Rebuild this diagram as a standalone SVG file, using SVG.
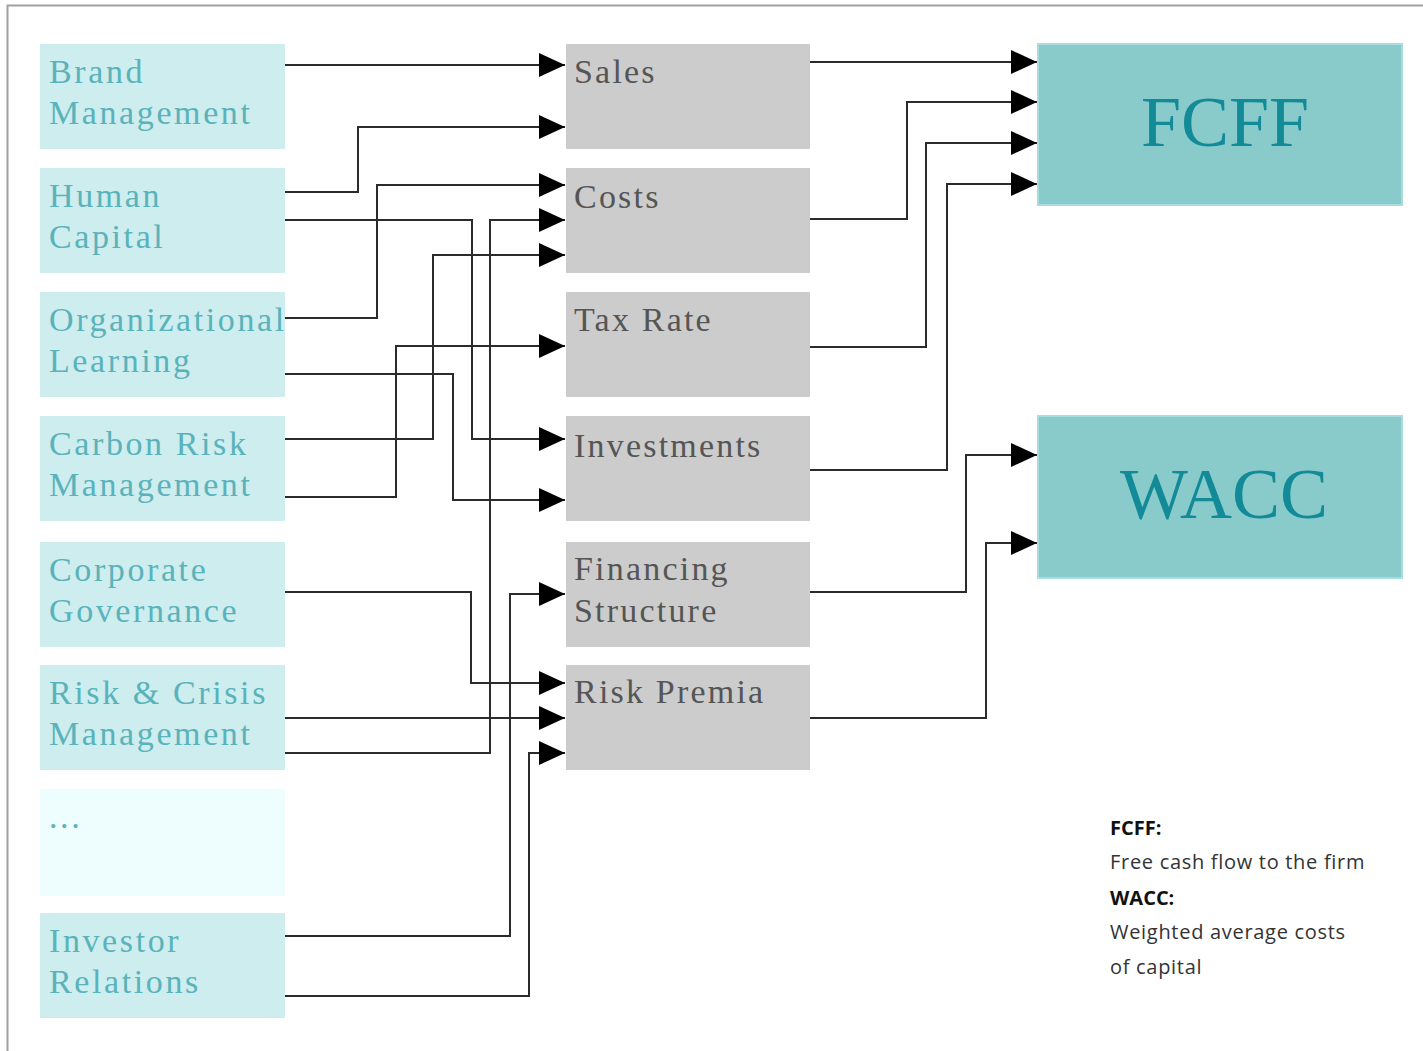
<svg xmlns="http://www.w3.org/2000/svg" width="1423" height="1051" viewBox="0 0 1423 1051">
<style>
.lb{fill:#cdedef}
.mb{fill:#cccccc}
.rb{fill:#88cbca;stroke:#a8dde0;stroke-width:2}
.lt{font-family:"Liberation Serif",serif;font-size:34px;letter-spacing:2.6px;fill:#5ab3ba}
.mt{font-family:"Liberation Serif",serif;font-size:34px;letter-spacing:2.2px;fill:#555555}
.rt{font-family:"Liberation Serif",serif;font-size:72px;fill:#138a97;text-anchor:middle}
.lg{font-family:"Open Sans","Noto Sans",sans-serif;font-size:20px;letter-spacing:0.7px;fill:#333333}
.lgb{font-family:"Open Sans","Noto Sans",sans-serif;font-size:20px;font-weight:bold;fill:#111111}
.c{fill:none;stroke:#2b2b2b;stroke-width:2}
</style>
<defs>
<marker id="ah" viewBox="0 0 26 24" refX="26" refY="12" markerWidth="26" markerHeight="24" markerUnits="userSpaceOnUse" orient="auto">
<path d="M0,0 L26,12 L0,24 Z" fill="#000"/>
</marker>
</defs>
<rect x="0" y="0" width="1423" height="1051" fill="#ffffff"/>
<path d="M7.5,1051 V5.5 H1423" fill="none" stroke="#a0a0a0" stroke-width="2"/>

<g id="brand"><rect class="lb" x="40" y="44" width="245" height="105"/><text class="lt" x="49" y="83">Brand</text><text class="lt" x="49" y="124">Management</text></g>
<g id="human"><rect class="lb" x="40" y="168" width="245" height="105"/><text class="lt" x="49" y="207">Human</text><text class="lt" x="49" y="248">Capital</text></g>
<g id="org"><rect class="lb" x="40" y="292" width="245" height="105"/><text class="lt" x="49" y="331">Organizational</text><text class="lt" x="49" y="372">Learning</text></g>
<g id="carbon"><rect class="lb" x="40" y="416" width="245" height="105"/><text class="lt" x="49" y="455">Carbon Risk</text><text class="lt" x="49" y="496">Management</text></g>
<g id="corp"><rect class="lb" x="40" y="542" width="245" height="105"/><text class="lt" x="49" y="581">Corporate</text><text class="lt" x="49" y="622">Governance</text></g>
<g id="risk"><rect class="lb" x="40" y="665" width="245" height="105"/><text class="lt" x="49" y="704">Risk &amp; Crisis</text><text class="lt" x="49" y="745">Management</text></g>
<g id="more"><rect x="40" y="789" width="245" height="107" fill="#eefdfd"/><text class="lt" x="49" y="828">...</text></g>
<g id="investor"><rect class="lb" x="40" y="913" width="245" height="105"/><text class="lt" x="49" y="952">Investor</text><text class="lt" x="49" y="993">Relations</text></g>

<g id="sales"><rect class="mb" x="566" y="44" width="244" height="105"/><text class="mt" x="574" y="83">Sales</text></g>
<g id="costs"><rect class="mb" x="566" y="168" width="244" height="105"/><text class="mt" x="574" y="208">Costs</text></g>
<g id="tax"><rect class="mb" x="566" y="292" width="244" height="105"/><text class="mt" x="574" y="331">Tax Rate</text></g>
<g id="invest"><rect class="mb" x="566" y="416" width="244" height="105"/><text class="mt" x="574" y="457">Investments</text></g>
<g id="financing"><rect class="mb" x="566" y="542" width="244" height="105"/><text class="mt" x="574" y="580">Financing</text><text class="mt" x="574" y="622">Structure</text></g>
<g id="premia"><rect class="mb" x="566" y="665" width="244" height="105"/><text class="mt" x="574" y="703">Risk Premia</text></g>

<g id="fcff"><rect class="rb" x="1038" y="44" width="364" height="161"/><text class="rt" x="1225" y="146">FCFF</text></g>
<g id="wacc"><rect class="rb" x="1038" y="416" width="364" height="162"/><text class="rt" x="1224" y="518">WACC</text></g>

<g id="connectors">
<path class="c" marker-end="url(#ah)" d="M285,65 H565"/>
<path class="c" marker-end="url(#ah)" d="M285,192 H358 V127 H565"/>
<path class="c" marker-end="url(#ah)" d="M285,318 H377 V185 H565"/>
<path class="c" marker-end="url(#ah)" d="M285,220 H472 V439 H565"/>
<path class="c" marker-end="url(#ah)" d="M285,753 H490 V220 H565"/>
<path class="c" marker-end="url(#ah)" d="M285,439 H433 V255 H565"/>
<path class="c" marker-end="url(#ah)" d="M285,497 H396 V346 H565"/>
<path class="c" marker-end="url(#ah)" d="M285,374 H453 V500 H565"/>
<path class="c" marker-end="url(#ah)" d="M285,592 H471 V683 H565"/>
<path class="c" marker-end="url(#ah)" d="M285,718 H565"/>
<path class="c" marker-end="url(#ah)" d="M285,936 H510 V594 H565"/>
<path class="c" marker-end="url(#ah)" d="M285,996 H529 V753 H565"/>
<path class="c" marker-end="url(#ah)" d="M810,62 H1037"/>
<path class="c" marker-end="url(#ah)" d="M810,219 H907 V102 H1037"/>
<path class="c" marker-end="url(#ah)" d="M810,347 H926 V143 H1037"/>
<path class="c" marker-end="url(#ah)" d="M810,470 H947 V184 H1037"/>
<path class="c" marker-end="url(#ah)" d="M810,592 H966 V455 H1037"/>
<path class="c" marker-end="url(#ah)" d="M810,718 H986 V543 H1037"/>
</g>

<g id="legend">
<text class="lgb" x="1110" y="835">FCFF:</text>
<text class="lg" x="1110" y="869">Free cash flow to the firm</text>
<text class="lgb" x="1110" y="905">WACC:</text>
<text class="lg" x="1110" y="939">Weighted average costs</text>
<text class="lg" x="1110" y="974">of capital</text>
</g>
</svg>
